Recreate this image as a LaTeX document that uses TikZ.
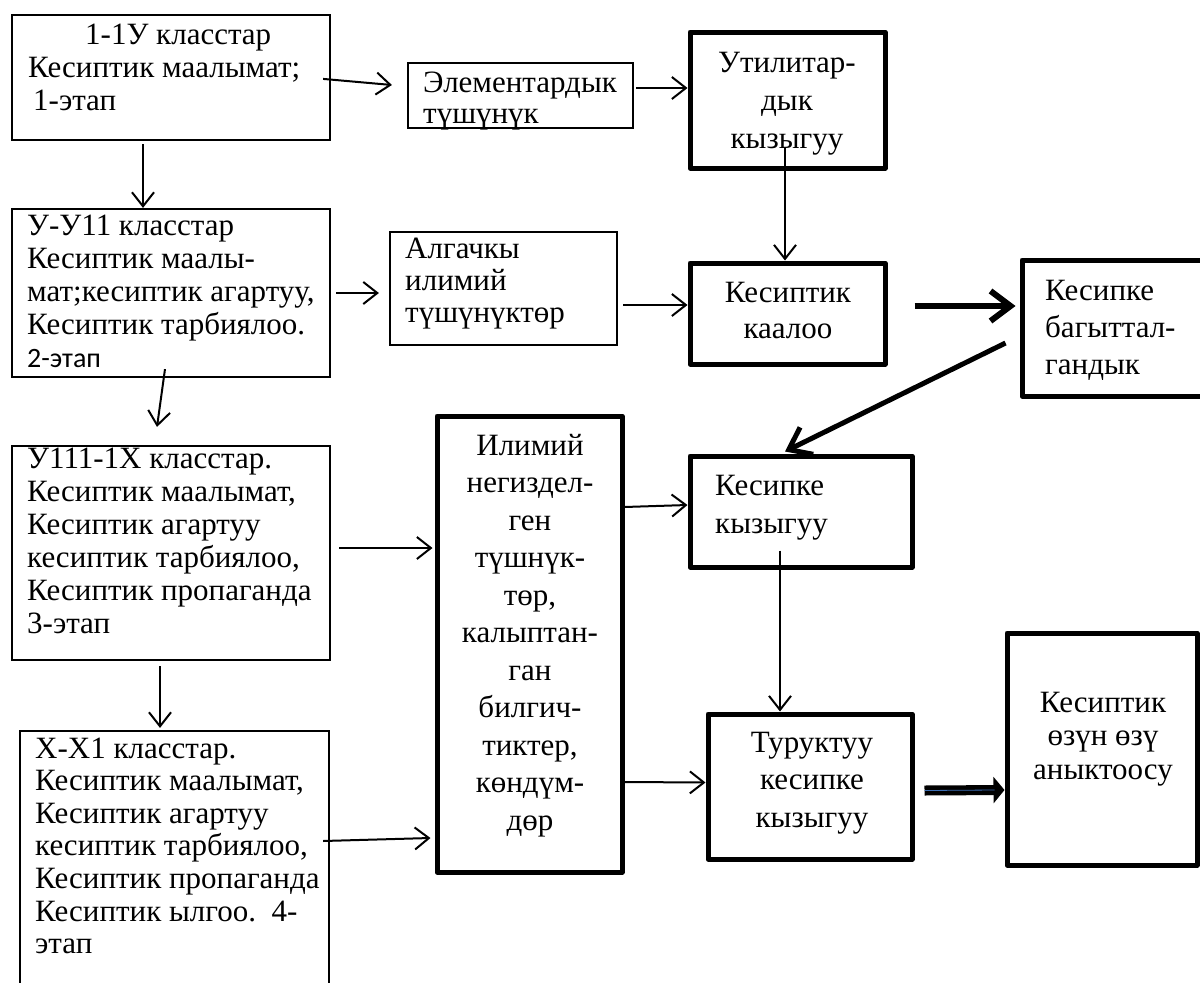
\documentclass[tikz,border=0pt]{standalone}
\usepackage{fontspec}
\setmainfont{Liberation Serif}
\newfontfamily\calfont{Carlito}
\usetikzlibrary{arrows.meta,calc,fit}
\definecolor{midblue}{RGB}{60,110,180}
\newcommand\mlL[3]{\parbox[t]{#1pt}{\fontsize{31}{#2}\selectfont\raggedright #3}}
\newcommand\mlC[3]{\parbox[t]{#1pt}{\fontsize{31}{#2}\selectfont\centering #3}}
\begin{document}
\begin{tikzpicture}[x=1pt,y=-1pt,
  thinbox/.style={draw, line width=2.2pt, inner sep=0pt},
  thickbox/.style={draw, line width=5pt, inner sep=0pt, line join=round},
  tx/.style={anchor=base west, inner sep=0pt},
  txc/.style={anchor=base, inner sep=0pt},
  arr/.style={line width=2pt, -{Straight Barb[length=14pt,width=22pt,line width=2pt]}},
  bigarr/.style={line width=6pt, -{Straight Barb[length=20pt,width=30pt,line width=6pt]}},
  diagarr/.style={line width=5pt, -{Straight Barb[length=20pt,width=30pt,line width=5pt]}},
  fatarr/.style={line width=10pt, -{Triangle[length=11pt,width=26pt]}}
]
\path[use as bounding box] (0,0) rectangle (1200,983);

% boxes
\node[thinbox, fit={(12,15) (330,140)}] (b1) {};
\node[thinbox, fit={(12,209) (330,377)}] (b2) {};
\node[thinbox, fit={(12,446) (330,660)}] (b3) {};
\node[thinbox, fit={(20,731) (329,995)}] (b4) {};
\node[thinbox, fit={(408,63) (633,128)}] (e1) {};
\node[thickbox, fit={(690,32) (885,168)}] (u1) {};
\node[thinbox, fit={(390,232) (617,345)}] (a1) {};
\node[thickbox, fit={(690,263) (885,364)}] (k1) {};
\node[thickbox, fit={(1022,260) (1210,396)}] (bg) {};
\node[thickbox, fit={(437,416) (622,872)}] (il) {};
\node[thickbox, fit={(690,456) (912,567)}] (kz) {};
\node[thickbox, fit={(708,714) (912,859)}] (tr) {};
\node[thickbox, fit={(1007,633) (1197,865)}] (oz) {};

% texts
\node[tx] (t1) at (28,44) {\mlL{320}{33}{\hspace*{57pt}1-1У класстар\\Кесиптик маалымат;\\\hspace*{5pt}1-этап}};
\node[tx] (t2) at (27,235) {\mlL{320}{33}{У-У11 класстар\\Кесиптик маалы-\\мат;кесиптик агартуу,\\Кесиптик тарбиялоо.\\{\calfont\fontsize{28}{33}\selectfont 2-этап}}};
\node[tx] (t3) at (27,468) {\mlL{320}{33}{У111-1Х класстар.\\Кесиптик маалымат,\\Кесиптик агартуу\\кесиптик тарбиялоо,\\Кесиптик пропаганда\\3-этап}};
\node[tx] (t4) at (35,758) {\mlL{320}{32.6}{Х-Х1 класстар.\\Кесиптик маалымат,\\Кесиптик агартуу\\кесиптик тарбиялоо,\\Кесиптик пропаганда\\Кесиптик ылгоо.\ \ 4-\\этап}};
\node[tx] (te) at (423,92) {\mlL{220}{31}{Элементардык\\түшүнүк}};
\node[txc] (tu) at (787,72) {\mlC{190}{38}{Утилитар-\\дык\\кызыгуу}};
\node[tx] (ta) at (405,258) {\mlL{220}{32}{Алгачкы\\илимий\\түшүнүктөр}};
\node[txc] (tk) at (788,302) {\mlC{190}{36}{Кесиптик\\каалоо}};
\node[tx] (tb) at (1045,300) {\mlL{160}{37}{Кесипке\\багыттал-\\гандык}};
\node[txc] (ti) at (530,455) {\mlC{180}{37.5}{Илимий\\негиздел-\\ген\\түшнүк-\\төр,\\калыптан-\\ган\\билгич-\\тиктер,\\көндүм-\\дөр}};
\node[tx] (tz) at (715,495) {\mlL{190}{38}{Кесипке\\кызыгуу}};
\node[txc] (tt) at (812,752) {\mlC{200}{37.5}{Туруктуу\\кесипке\\кызыгуу}};
\node[txc] (to) at (1103,712) {\mlC{190}{33.5}{Кесиптик\\өзүн өзү\\аныктоосу}};

% connectors
\draw[arr] ($(b1.north east)+(-8,65)$) -- ($(e1.west)+(-15,-10.5)$);
\draw[arr] ($(e1.east)+(2,-7.5)$) -- ($(u1.west)+(0,-12)$);
\draw[arr] ($(u1.south)+(-2.5,-23)$) -- ($(k1.north)+(-2.5,0)$);
\draw[arr] ($(a1.east)+(5,16.5)$) -- ($(k1.west)+(0,-8.5)$);
\draw[arr] ($(b2.east)+(5,0)$) -- ($(a1.west)+(-10,4.5)$);
\draw[arr] ($(b1.south)+(-28,3)$) -- ($(b2.north)+(-28,0)$);
\draw[arr] ($(b2.south)+(-6,-9)$) -- ($(b3.north)+(-14,-18)$);
\draw[arr] ($(b3.south)+(-11,5)$) -- ($(b4.north)+(-14.5,-2)$);
\draw[arr] ($(b3.east)+(8,-5)$) -- ($(il.west)+(-2,-96)$);
\draw[arr] ($(b4.east)+(-7,-22)$) -- ($(il.west)+(-4,194)$);
\draw[arr] ($(il.east)+(0,-137)$) -- ($(kz.west)+(0,-6.5)$);
\draw[arr] ($(il.east)+(0,138)$) -- ($(tr.west)+(0,-4)$);
\draw[arr] ($(kz.south)+(-21,-19)$) -- ($(tr.north)+(-30,0)$);
\draw[bigarr] ($(k1.east)+(27,-7.5)$) -- ($(bg.west)+(-4,-22)$);
\draw[diagarr] ($(bg.west)+(-14,15)$) -- ($(kz.north)+(-16,-2)$);
\draw[fatarr] ($(tr.east)+(10,4)$) -- ($(oz.west)+(0,41)$);
\draw[midblue, line width=0.8pt] ($(tr.east)+(10,4)$) -- ($(oz.west)+(-10,41)$);
\end{tikzpicture}
\end{document}
